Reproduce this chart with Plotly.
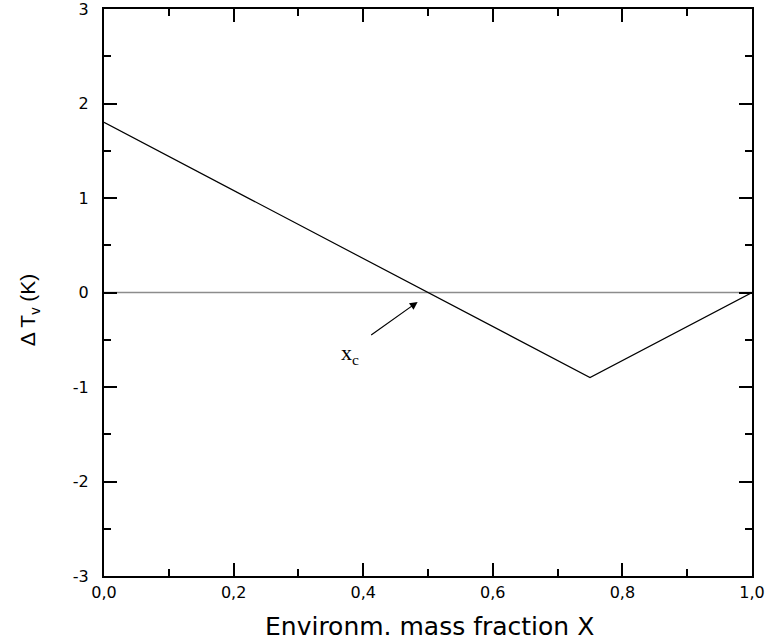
import plotly.graph_objects as go

# Data
mass_fraction = [0.0, 0.75, 1.0]
delta_tv = [1.8, -0.9, 0.0]
zero_x = [0.0, 1.0]
zero_y = [0.0, 0.0]

x_tickvals = [0.0, 0.2, 0.4, 0.6, 0.8, 1.0]
x_ticktext = ["0,0", "0,2", "0,4", "0,6", "0,8", "1,0"]
y_tickvals = [-3, -2, -1, 0, 1, 2, 3]
y_ticktext = ["-3", "-2", "-1", "0", "1", "2", "3"]

# annotation anchor (data coords)
arrow_tip = (0.484, -0.10)
arrow_tail = (0.410, -0.46)
label_pos = (0.380, -0.65)

fig = go.Figure()
fig.add_trace(go.Scatter(x=zero_x, y=zero_y, mode="lines",
                         line=dict(color="#8c8c8c", width=1.5), showlegend=False))
fig.add_trace(go.Scatter(x=mass_fraction, y=delta_tv, mode="lines",
                         line=dict(color="black", width=1.2), showlegend=False))

fig.add_annotation(x=arrow_tip[0], y=arrow_tip[1], ax=arrow_tail[0], ay=arrow_tail[1],
                   xref="x", yref="y", axref="x", ayref="y", text="",
                   showarrow=True, arrowhead=2, arrowsize=1.3, arrowwidth=1.2,
                   arrowcolor="black")
fig.add_annotation(x=label_pos[0], y=label_pos[1], xref="x", yref="y",
                   text="x<sub>c</sub>", showarrow=False,
                   font=dict(family="Liberation Serif, Times New Roman, serif", size=22, color="black"))

# axis titles as annotations
fig.add_annotation(x=0.503, y=-0.089, xref="paper", yref="paper", xanchor="center", yanchor="middle",
                   text="Environm. mass fraction X", showarrow=False,
                   font=dict(family="DejaVu Sans, sans-serif", size=25, color="black"))
fig.add_annotation(x=-0.116, y=0.47, xref="paper", yref="paper", xanchor="center", yanchor="middle",
                   text="Δ T<sub>v</sub> (K)", showarrow=False, textangle=-90,
                   font=dict(family="Liberation Sans, Arial, sans-serif", size=21, color="black"))

axis_common = dict(showgrid=False, zeroline=False, showline=True, linecolor="black",
                   linewidth=2, mirror="ticks", ticks="inside", ticklen=13, tickwidth=2,
                   tickcolor="black", automargin=False, ticklabeloverflow="allow",
                   tickfont=dict(family="DejaVu Sans, sans-serif", size=16, color="black"))

fig.update_xaxes(range=[0, 1], tickvals=x_tickvals, ticktext=x_ticktext,
                 minor=dict(dtick=0.1, ticks="inside", ticklen=7, tickwidth=2, tickcolor="black"),
                 ticklabelstandoff=1,
                 **axis_common)
fig.update_yaxes(range=[-3, 3], tickvals=y_tickvals, ticktext=y_ticktext,
                 minor=dict(dtick=0.5, ticks="inside", ticklen=7, tickwidth=2, tickcolor="black"),
                 ticklabelstandoff=10,
                 **axis_common)

fig.update_layout(width=768, height=642, margin=dict(l=104, r=16, t=9, b=66),
                  plot_bgcolor="white", paper_bgcolor="white")

fig.write_html("out.html", config={"displayModeBar": False},
               post_script="document.body.style.margin='0';document.body.style.overflow='hidden';")
